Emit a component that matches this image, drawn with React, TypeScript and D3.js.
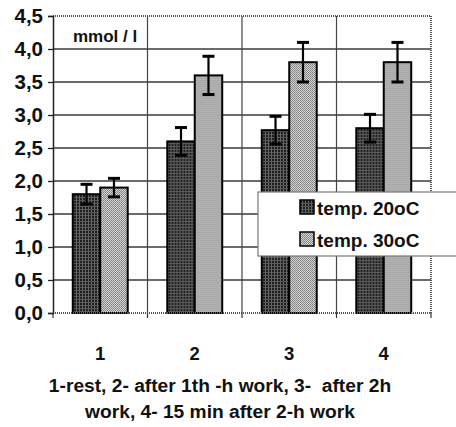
import React, { useEffect, useRef } from "react";
import * as d3 from "d3";

const categories = ["1", "2", "3", "4"];
const seriesNames = ["temp. 20oC", "temp. 30oC"];
const temp20 = [1.8, 2.6, 2.77, 2.8];
const temp20Err = [0.15, 0.21, 0.21, 0.21];
const temp30 = [1.9, 3.6, 3.8, 3.8];
const temp30Err = [0.14, 0.29, 0.3, 0.3];
const yTicks = [0, 0.5, 1, 1.5, 2, 2.5, 3, 3.5, 4, 4.5];
const captionLines = [
  "1-rest, 2- after 1th -h work, 3-  after 2h",
  "work, 4- 15 min after 2-h work",
];

export default function App() {
  const ref = useRef<SVGSVGElement>(null);
  const width = 456;
  const height = 427;

  useEffect(() => {
    const svg = d3.select(ref.current);
    svg.selectAll("*").remove();
    const margin = { top: 16, right: 25, bottom: 114, left: 53 };
    const font = "'Liberation Sans', Arial, sans-serif";

    const rows = categories.map((c, i) => ({
      cat: c,
      vals: [
        { s: seriesNames[0], v: temp20[i], e: temp20Err[i] },
        { s: seriesNames[1], v: temp30[i], e: temp30Err[i] },
      ],
    }));

    // patterns
    const defs = svg.append("defs");
    const pd = defs
      .append("pattern")
      .attr("id", "pDark")
      .attr("patternUnits", "userSpaceOnUse")
      .attr("width", 3)
      .attr("height", 3);
    pd.append("rect").attr("width", 3).attr("height", 3).attr("fill", "#1e1e1e");
    pd.append("rect").attr("x", 2).attr("width", 1).attr("height", 3).attr("fill", "#6a6a6a");
    pd.append("rect").attr("y", 2).attr("width", 3).attr("height", 1).attr("fill", "#5a5a5a");
    const pl = defs
      .append("pattern")
      .attr("id", "pLight")
      .attr("patternUnits", "userSpaceOnUse")
      .attr("width", 2)
      .attr("height", 2);
    pl.append("rect").attr("width", 2).attr("height", 2).attr("fill", "#d8d8d8");
    pl.append("rect").attr("width", 1).attr("height", 1).attr("fill", "#7a7a7a");
    pl.append("rect").attr("x", 1).attr("y", 1).attr("width", 1).attr("height", 1).attr("fill", "#8a8a8a");
    const fills = ["url(#pDark)", "url(#pLight)"];

    const x = d3
      .scaleBand()
      .domain(categories)
      .range([margin.left, width - margin.right])
      .padding(0);
    const x1 = d3
      .scaleBand()
      .domain(seriesNames)
      .range([0, x.bandwidth()])
      .paddingInner(0)
      .paddingOuter(0.72);
    const y = d3
      .scaleLinear()
      .domain([0, 4.5])
      .range([height - margin.bottom, margin.top]);

    const left = margin.left;
    const right = width - margin.right;
    const top = margin.top;
    const bottom = height - margin.bottom;

    // horizontal grid
    svg
      .append("g")
      .selectAll("line")
      .data(yTicks.slice(1, -1))
      .join("line")
      .attr("x1", left)
      .attr("x2", right)
      .attr("y1", (d) => y(d))
      .attr("y2", (d) => y(d))
      .attr("stroke", "#3a3a3a")
      .attr("stroke-width", 1.3);

    // vertical grid at category boundaries
    svg
      .append("g")
      .selectAll("line")
      .data(categories.slice(1))
      .join("line")
      .attr("x1", (d) => x(d)!)
      .attr("x2", (d) => x(d)!)
      .attr("y1", top)
      .attr("y2", bottom)
      .attr("stroke", "#444")
      .attr("stroke-width", 1.2);

    // dotted frame top/right
    const frame = svg.append("g").attr("stroke", "#555").attr("stroke-width", 2).attr("stroke-dasharray", "1,1");
    frame.append("line").attr("x1", left).attr("x2", right).attr("y1", top).attr("y2", top);
    frame.append("line").attr("x1", right).attr("x2", right).attr("y1", top).attr("y2", bottom);

    // bars
    const g = svg
      .append("g")
      .selectAll("g")
      .data(rows)
      .join("g")
      .attr("transform", (d) => `translate(${x(d.cat)},0)`);
    g.selectAll("rect")
      .data((d) => d.vals)
      .join("rect")
      .attr("x", (d) => x1(d.s)!)
      .attr("y", (d) => y(d.v))
      .attr("width", x1.bandwidth())
      .attr("height", (d) => y(0) - y(d.v))
      .attr("fill", (d, i) => fills[i])
      .attr("stroke", "#000")
      .attr("stroke-width", 2);

    // error bars
    const eb = g
      .selectAll("g.err")
      .data((d) => d.vals)
      .join("g")
      .attr("class", "err")
      .attr("stroke", "#000")
      .attr("stroke-width", 2.2);
    eb.append("line")
      .attr("x1", (d) => x1(d.s)! + x1.bandwidth() / 2)
      .attr("x2", (d) => x1(d.s)! + x1.bandwidth() / 2)
      .attr("y1", (d) => y(d.v + d.e))
      .attr("y2", (d) => y(d.v - d.e));
    eb.selectAll("line.cap")
      .data((d) => [
        { d, v: d.v + d.e },
        { d, v: d.v - d.e },
      ])
      .join("line")
      .attr("class", "cap")
      .attr("x1", (c) => x1(c.d.s)! + x1.bandwidth() / 2 - 6)
      .attr("x2", (c) => x1(c.d.s)! + x1.bandwidth() / 2 + 6)
      .attr("y1", (c) => y(c.v))
      .attr("y2", (c) => y(c.v))
      .attr("stroke-width", 3);

    // bottom axis (dotted) with ticks
    svg
      .append("line")
      .attr("x1", left)
      .attr("x2", right)
      .attr("y1", bottom)
      .attr("y2", bottom)
      .attr("stroke", "#555")
      .attr("stroke-width", 2)
      .attr("stroke-dasharray", "1,1");
    svg
      .append("g")
      .selectAll("line")
      .data([...categories.map((c) => x(c)!), right])
      .join("line")
      .attr("x1", (d) => d)
      .attr("x2", (d) => d)
      .attr("y1", bottom)
      .attr("y2", bottom + 5)
      .attr("stroke", "#333")
      .attr("stroke-width", 1.2);

    // left axis
    const yAxis = svg
      .append("g")
      .attr("transform", `translate(${left},0)`)
      .call(
        d3
          .axisLeft(y)
          .tickValues(yTicks)
          .tickSize(5)
          .tickPadding(5)
          .tickFormat((d) => d3.format(".1f")(d as number).replace(".", ","))
      );
    yAxis.select(".domain").attr("stroke", "#222").attr("stroke-width", 1.5);
    yAxis.selectAll("line").attr("stroke", "#222").attr("stroke-width", 1.3);
    yAxis
      .selectAll("text")
      .attr("font-family", font)
      .attr("font-size", 20.5)
      .attr("font-weight", "bold")
      .attr("fill", "#111");

    // x category labels
    svg
      .append("g")
      .selectAll("text")
      .data(categories)
      .join("text")
      .attr("x", (d) => x(d)! + x.bandwidth() / 2)
      .attr("y", 360)
      .attr("text-anchor", "middle")
      .attr("font-family", font)
      .attr("font-size", 18.5)
      .attr("font-weight", "bold")
      .attr("fill", "#111")
      .text((d) => d);

    // caption
    svg
      .append("g")
      .selectAll("text")
      .data(captionLines)
      .join("text")
      .attr("x", 220)
      .attr("y", (d, i) => 392 + i * 26)
      .attr("text-anchor", "middle")
      .attr("font-family", font)
      .attr("font-size", 19.2)
      .attr("font-weight", "bold")
      .attr("fill", "#111")
      .attr("xml:space", "preserve")
      .style("white-space", "pre")
      .text((d) => d);

    // unit label
    svg
      .append("text")
      .attr("x", 73)
      .attr("y", 42)
      .attr("font-family", font)
      .attr("font-size", 17)
      .attr("font-weight", "bold")
      .attr("fill", "#111")
      .text("mmol / l");

    // legend
    const lg = svg.append("g").attr("transform", "translate(258,192)");
    lg.append("rect")
      .attr("width", 210)
      .attr("height", 64)
      .attr("fill", "#fff")
      .attr("stroke", "#777")
      .attr("stroke-width", 1.2);
    const items = lg
      .selectAll("g")
      .data(seriesNames)
      .join("g")
      .attr("transform", (d, i) => `translate(42,${15 + i * 32})`);
    items
      .append("rect")
      .attr("x", 0)
      .attr("y", -7)
      .attr("width", 14)
      .attr("height", 14)
      .attr("fill", (d, i) => fills[i])
      .attr("stroke", "#000")
      .attr("stroke-width", 1.5);
    items
      .append("text")
      .attr("x", 17)
      .attr("y", 8)
      .attr("font-family", font)
      .attr("font-size", 19)
      .attr("font-weight", "bold")
      .attr("fill", "#111")
      .text((d) => d);
  }, []);

  return (
    <svg
      ref={ref}
      width={width}
      height={height}
      style={{ position: "absolute", left: 0, top: 0, background: "#fff" }}
    />
  );
}
